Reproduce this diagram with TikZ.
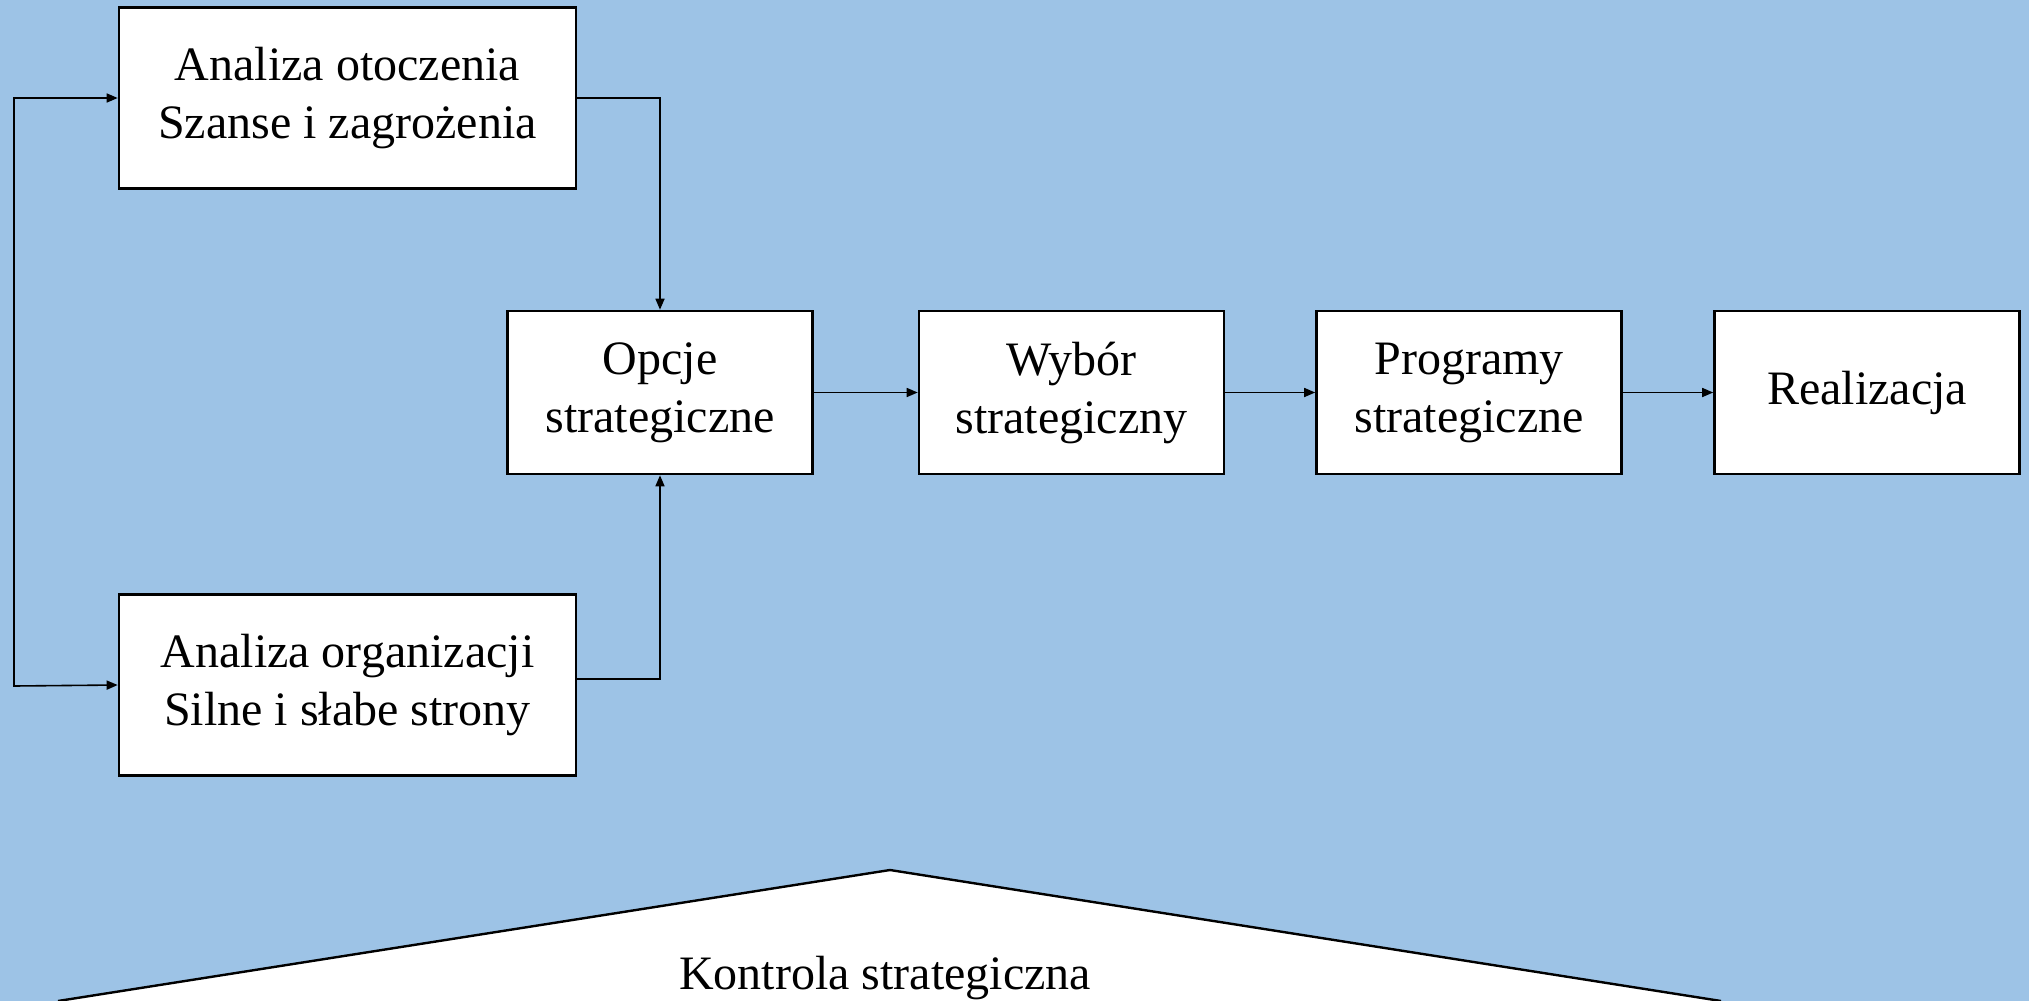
\documentclass[tikz,border=0pt]{standalone}
\usepackage{fontspec}
\setmainfont{Liberation Serif}
\usetikzlibrary{arrows.meta}
\definecolor{bgblue}{RGB}{157,195,230}
\begin{document}
\begin{tikzpicture}[x=0.5pt,y=-0.5pt,
  box/.style={draw=black,fill=white,line width=1.3pt,align=center,
    inner sep=0pt,font=\fontsize{24}{29}\selectfont},
  bigbox/.style={box,minimum width=228.5pt,minimum height=90.5pt},
  stepbox/.style={box,minimum width=152.5pt,minimum height=81.5pt},
  conn/.style={line width=0.8pt,-{Triangle[length=5.5pt,width=4.5pt]}},
  lbl/.style={font=\fontsize{24}{29}\selectfont,inner sep=0pt}]
\useasboundingbox (0,0) rectangle (2029,1001);
\fill[bgblue] (0,0) rectangle (2029,1001);

\node[bigbox] (otoczenia) at (347.5,98) {Analiza otoczenia\\Szanse i zagrożenia};
\node[bigbox] (organizacji) at (347.5,685) {Analiza organizacji\\Silne i słabe strony};
\node[stepbox] (opcje) at (660,392.5) {Opcje\\strategiczne};
\node[stepbox] (wybor) at (1071.5,392.5) {Wybór\\strategiczny};
\node[stepbox] (programy) at (1469,392.5) {Programy\\strategiczne};
\node[stepbox] (realizacja) at (1867,392.5) {Realizacja};

\coordinate (fbtop) at (14,98);
\coordinate (fbbot) at (14,686);

\draw[conn] (otoczenia.east) -| (opcje.north);
\draw[conn] ([yshift=3pt]organizacji.east) -| (opcje.south);
\draw[line width=0.8pt,{Triangle[length=5.5pt,width=4.5pt]}-{Triangle[length=5.5pt,width=4.5pt]}]
  (otoczenia.west) -- (fbtop) -- (fbbot) -- (organizacji.west);
\draw[conn] (opcje.east) -- (wybor.west);
\draw[conn] (wybor.east) -- (programy.west);
\draw[conn] (programy.east) -- (realizacja.west);

\coordinate (tl) at (58,1001);
\coordinate (tapex) at (890,870);
\coordinate (tr) at (1721,1001);
\fill[white] (tl) -- (tapex) -- (tr) -- cycle;
\draw[line width=1.2pt,line join=miter] (tl) -- (tapex) -- (tr);
\node[lbl,anchor=base] (kontrola) at (885,989) {Kontrola strategiczna};
\end{tikzpicture}
\end{document}
